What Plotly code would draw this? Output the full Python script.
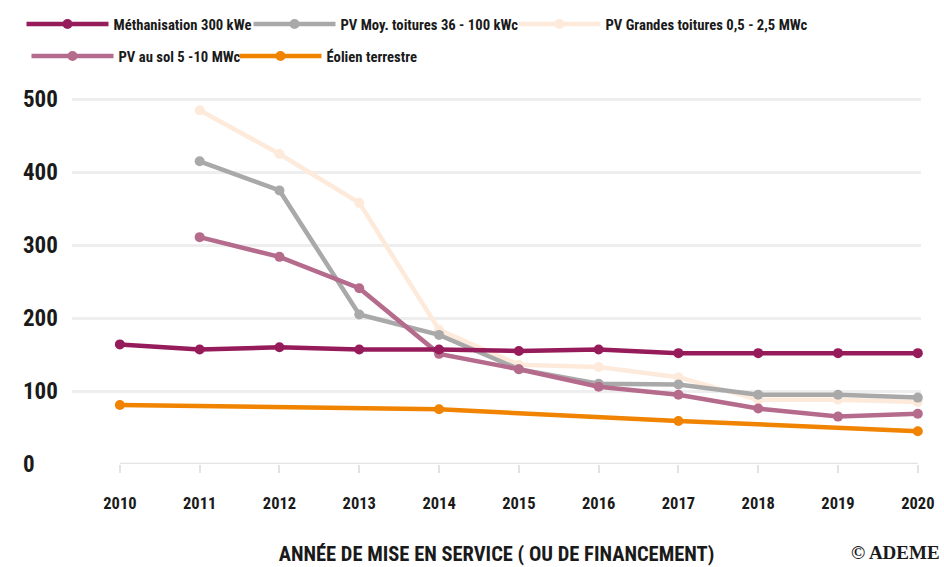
import plotly.graph_objects as go

years = [2010, 2011, 2012, 2013, 2014, 2015, 2016, 2017, 2018, 2019, 2020]

methanisation = [164, 157, 160, 157, 157, 155, 157, 152, 152, 152, 152]
pv_moy = [None, 415, 375, 205, 177, 130, 110, 109, 95, 95, 91]
pv_grandes = [None, 485, 425, 358, 184, 136, 133, 119, 88, 88, 85]
pv_sol = [None, 311, 284, 241, 151, 130, 106, 95, 76, 65, 69]
eolien = [81, None, None, None, 75, None, None, 59, None, None, 45]

y_ticks = [0, 100, 200, 300, 400, 500]

FONT = "Roboto Condensed, Liberation Sans Narrow, Liberation Sans, Arial, sans-serif"
TXT = "#1a1a1a"

# name, values, color, legend id (drawing order: bottom to top)
series = [
    ("PV Grandes toitures 0,5 - 2,5 MWc", pv_grandes, "#fdeadb", "legend3"),
    ("PV Moy. toitures 36 - 100 kWc", pv_moy, "#a9a9a9", "legend2"),
    ("PV au sol 5 -10 MWc", pv_sol, "#b56b8c", "legend4"),
    ("Éolien terrestre", eolien, "#f08300", "legend5"),
    ("Méthanisation 300 kWe", methanisation, "#951b5a", "legend"),
]

fig = go.Figure()
for name, vals, color, leg in series:
    fig.add_trace(go.Scatter(
        x=years, y=vals, name=name, mode="lines+markers",
        connectgaps=True, legend=leg,
        line=dict(color=color, width=4.5),
        marker=dict(color=color, size=10),
        cliponaxis=False,
    ))

# x axis baseline from 2010 to 2020
fig.add_shape(type="line", xref="x", yref="y", x0=years[0], x1=years[-1], y0=0, y1=0,
              line=dict(color="#e3e3e3", width=2.5), layer="below")

# y tick labels (left aligned)
for v in y_ticks:
    fig.add_annotation(xref="paper", yref="y", x=-0.06, y=v, text=str(v), showarrow=False,
                       xanchor="left", yanchor="middle",
                       font=dict(family=FONT, size=23, color=TXT, weight=700))

fig.add_annotation(xref="paper", yref="paper", x=1.025, y=-0.239, text="© ADEME", showarrow=False,
                   xanchor="right", yanchor="middle",
                   font=dict(family="Liberation Serif, DejaVu Serif, serif", size=19, color=TXT))

H = 567.0
W = 944.0


def leg(x_px, y_px):
    return dict(orientation="h", xref="container", yref="container",
                x=x_px / W, y=1 - y_px / H, xanchor="left", yanchor="top",
                itemwidth=82, bgcolor="rgba(0,0,0,0)", borderwidth=0,
                font=dict(family=FONT, size=14.7, color=TXT, weight=700))


fig.update_layout(
    width=944, height=567,
    margin=dict(l=72, r=23, t=92, b=103, autoexpand=False),
    paper_bgcolor="white", plot_bgcolor="white",
    font=dict(family=FONT, color=TXT, weight=700),
    showlegend=True,
    legend=leg(21.5, 8),
    legend2=leg(248.5, 8),
    legend3=leg(513.5, 8),
    legend4=leg(26.5, 40),
    legend5=leg(234.5, 40),
    xaxis=dict(range=[2009.4, 2020.04], tickvals=years, ticktext=[str(y) for y in years],
               showgrid=False, zeroline=False, showline=False, automargin=False,
               ticks="outside", ticklen=8, tickwidth=2, tickcolor="#e3e3e3",
               ticklabelstandoff=16,
               tickfont=dict(family=FONT, size=16.5, color=TXT, weight=700),
               title=dict(text="ANNÉE DE MISE EN SERVICE ( OU DE FINANCEMENT)", standoff=34,
                          font=dict(family=FONT, size=20.5, color=TXT, weight=700))),
    yaxis=dict(range=[0, 510], tickvals=y_ticks[1:], showticklabels=False, automargin=False,
               showgrid=True, gridcolor="#eeeeee", gridwidth=2.5, zeroline=False, showline=False),
)

fig.write_html("out.html", config={"displayModeBar": False},
               post_script="document.body.style.margin='0px';")
